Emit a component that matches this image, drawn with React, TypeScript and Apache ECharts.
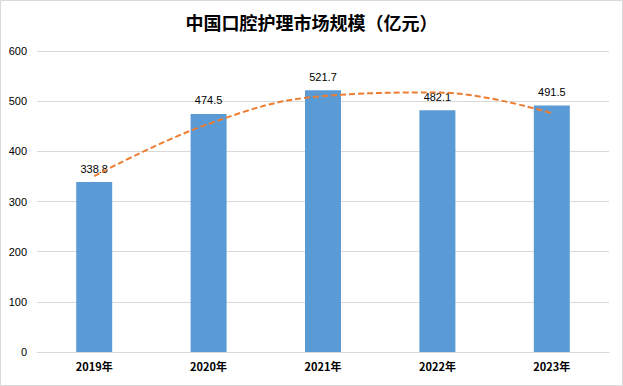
import React, { useEffect, useRef } from "react";
import * as echarts from "echarts";

const categories = ["2019年", "2020年", "2021年", "2022年", "2023年"];
const marketSize = [338.8, 474.5, 521.7, 482.1, 491.5];
const trendValues = [350.6, 454.7, 510.2, 517.3, 475.8];
const yTicks = [0, 100, 200, 300, 400, 500, 600];

export default function App() {
  const ref = useRef<HTMLDivElement>(null);
  useEffect(() => {
    document.body.style.margin = "0";
    const chart = echarts.init(ref.current!, undefined, { renderer: "svg" });
    chart.setOption({
      animation: false,
      backgroundColor: "#ffffff",
      title: {
        text: "中国口腔护理市场规模（亿元）",
        left: "center",
        top: 8,
        textStyle: {
          fontFamily: "Noto Sans CJK SC",
          fontSize: 18,
          fontWeight: "bold",
          color: "#000000",
        },
      },
      graphic: [
        {
          type: "rect",
          shape: { x: 0.5, y: 0.5, width: 622, height: 385 },
          style: { fill: "none", stroke: "#d9d9d9", lineWidth: 1 },
          silent: true,
        },
      ],
      grid: { left: 37, right: 14, top: 51, bottom: 34 },
      xAxis: [
        {
          type: "category",
          data: categories,
          axisLine: { lineStyle: { color: "#d9d9d9" } },
          axisTick: { show: false },
          axisLabel: {
            color: "#000000",
            fontSize: 11,
            fontWeight: "bold",
            fontFamily: "Noto Sans CJK SC",
            margin: 8,
          },
        },
      ],
      yAxis: {
        type: "value",
        min: yTicks[0],
        max: yTicks[yTicks.length - 1],
        interval: 100,
        axisLine: { show: false },
        axisTick: { show: false },
        splitLine: { lineStyle: { color: "#d9d9d9" } },
        axisLabel: {
          color: "#000000",
          fontSize: 11,
          fontFamily: "Liberation Sans",
          margin: 10,
        },
      },
      series: [
        {
          type: "bar",
          data: marketSize,
          barWidth: 36,
          itemStyle: { color: "#5b9bd5" },
          label: {
            show: true,
            position: "top",
            distance: 8,
            color: "#000000",
            fontSize: 11,
            fontFamily: "Liberation Sans",
            formatter: (p: any) => p.value.toFixed(1),
          },
          z: 2,
        },
        {
          type: "line",
          data: trendValues,
          smooth: 0.4,
          symbol: "none",
          lineStyle: { color: "#ed7d31", width: 2, type: [6, 3] },
          z: 3,
        },
      ],
    });
    return () => chart.dispose();
  }, []);
  return <div ref={ref} style={{ width: 623, height: 386 }} />;
}
